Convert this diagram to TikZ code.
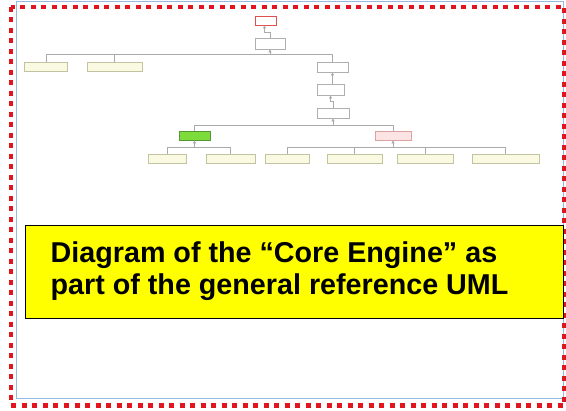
\documentclass[tikz,border=0pt]{standalone}
\usepackage{fontspec}
\setmainfont{Liberation Sans}
\usetikzlibrary{arrows.meta,calc}
\definecolor{dashred}{RGB}{226,20,30}
\definecolor{frameblue}{RGB}{150,185,225}
\definecolor{boxgray}{RGB}{175,175,175}
\definecolor{connGray}{RGB}{170,170,170}
\definecolor{leafFill}{RGB}{250,250,226}
\definecolor{leafDraw}{RGB}{195,195,160}
\definecolor{greenFill}{RGB}{125,220,60}
\definecolor{greenDraw}{RGB}{85,150,50}
\definecolor{pinkFill}{RGB}{252,228,228}
\definecolor{pinkDraw}{RGB}{220,160,160}
\definecolor{redDraw}{RGB}{225,80,80}
\definecolor{noteYellow}{RGB}{255,255,0}
\tikzset{
  cls/.style={draw=boxgray, fill=white, line width=0.8pt, inner sep=0pt, rectangle},
  leaf/.style={cls, draw=leafDraw, fill=leafFill},
  greencls/.style={cls, draw=greenDraw, fill=greenFill},
  pinkcls/.style={cls, draw=pinkDraw, fill=pinkFill},
  redcls/.style={cls, draw=redDraw},
  conn/.style={draw=connGray, line width=0.8pt},
  gen/.style={conn, -{Triangle[length=3pt,width=3pt,fill=connGray]}},
  notetext/.style={anchor=base west, inner sep=0pt, font=\fontsize{28.7}{32}\selectfont\bfseries}
}
\begin{document}
\begin{tikzpicture}[x=1pt,y=-1pt]
\useasboundingbox (0,0) rectangle (566,411);
\fill[white] (0,0) rectangle (566,411);
% frame
\draw[frameblue, line width=1pt] (16,2) rectangle (563,399);
\draw[dashred, line width=4.5pt, dash pattern=on 5pt off 5.5pt] (11,7) rectangle (564.5,405.5);

% class boxes
\node[redcls, minimum width=21pt, minimum height=9pt] (R) at (265.5,20.5) {};
\node[cls, minimum width=30pt, minimum height=11pt] (A) at (270,43.5) {};
\node[leaf, minimum width=43pt, minimum height=9.5pt] (L1) at (46,66.75) {};
\node[leaf, minimum width=55pt, minimum height=9.5pt] (L2) at (114.5,66.75) {};
\node[cls, minimum width=31pt, minimum height=10pt] (B1) at (332.5,67) {};
\node[cls, minimum width=27pt, minimum height=11pt] (B2) at (330.5,89.5) {};
\node[cls, minimum width=32pt, minimum height=10pt] (B3) at (333,113) {};
\node[greencls, minimum width=31pt, minimum height=9pt] (G) at (194.5,135.5) {};
\node[pinkcls, minimum width=36pt, minimum height=9pt] (P) at (393,135.5) {};
\node[leaf, minimum width=38pt, minimum height=9pt] (b1) at (167,158.5) {};
\node[leaf, minimum width=49pt, minimum height=9pt] (b2) at (230.5,158.5) {};
\node[leaf, minimum width=44pt, minimum height=9pt] (b3) at (287,158.5) {};
\node[leaf, minimum width=55pt, minimum height=9pt] (b4) at (354.5,158.5) {};
\node[leaf, minimum width=56pt, minimum height=9pt] (b5) at (425,158.5) {};
\node[leaf, minimum width=67pt, minimum height=9pt] (b6) at (505.5,158.5) {};

% bus levels
\coordinate (h1) at (0,54);
\coordinate (h2) at (0,125);
\coordinate (h3) at (0,147);
\coordinate (j1) at (0,32);
\coordinate (j2) at (0,101);

% connectors
\draw[gen] (A.north) -- (A.north |- j1) -- ($(R.south |- j1)+(-1,0)$) -- ($(R.south)+(-1,0)$);
\draw[gen] (A.south |- h1) -- (A.south);
\draw[conn] (L1.north) -- (L1.north |- h1) -- (B1.north |- h1) -- (B1.north);
\draw[conn] (L2.north) -- (L2.north |- h1);
\draw[gen] (B1.south |- B2.north) -- (B1.south);
\draw[gen] (B3.north) -- (B3.north |- j2) -- (B2.south |- j2) -- (B2.south);
\draw[gen] (B3.south |- h2) -- (B3.south);
\draw[conn] (G.north) -- (G.north |- h2) -- (P.north |- h2) -- (P.north);
\draw[gen] (G.south |- h3) -- (G.south);
\draw[conn] (b1.north) -- (b1.north |- h3) -- (b2.north |- h3) -- (b2.north);
\draw[gen] (P.south |- h3) -- (P.south);
\draw[conn] (b3.north) -- (b3.north |- h3) -- (b6.north |- h3) -- (b6.north);
\draw[conn] (b4.north) -- (b4.north |- h3);
\draw[conn] (b5.north) -- (b5.north |- h3);

% note
\node[draw=black, fill=noteYellow, line width=1pt, minimum width=538pt, minimum height=93pt, inner sep=0pt] (note) at (294,272.5) {};
\node[notetext] (t1) at (50.5,263) {Diagram of the “Core Engine” as};
\node[notetext] (t2) at (50.5,295) {part of the general reference UML};
\end{tikzpicture}
\end{document}
